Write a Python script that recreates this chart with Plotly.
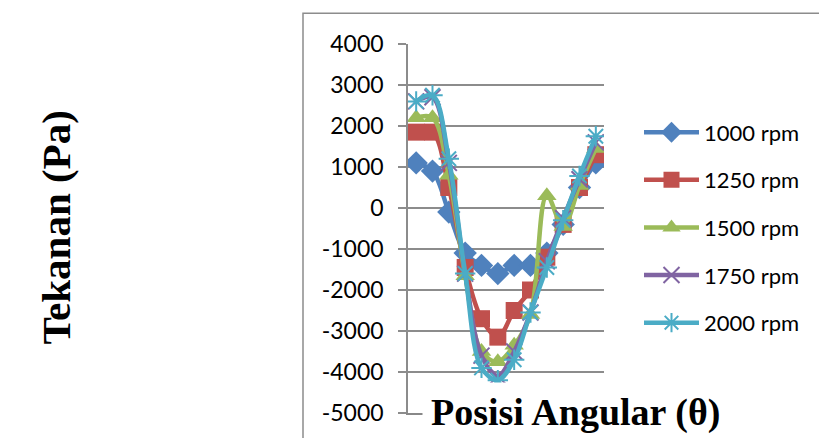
import plotly.graph_objects as go

posisi = [1, 2, 3, 4, 5, 6, 7, 8, 9, 10, 11, 12]
rpm_1000 = [1100, 900, -100, -1100, -1400, -1600, -1400, -1400, -1100, -400, 500, 1100]
rpm_1250 = [1850, 1850, 500, -1450, -2700, -3150, -2500, -2000, -1200, -400, 500, 1300]
rpm_1500 = [2200, 2200, 800, -1650, -3500, -3750, -3350, -2600, 300, -450, 550, 1450]
rpm_1750 = [2600, 2700, 1100, -1600, -3600, -4100, -3500, -2550, -1300, -250, 700, 1600]
rpm_2000 = [2600, 2750, 1200, -1600, -3900, -4200, -3700, -2550, -1450, -300, 780, 1750]
labels = ["1000 rpm", "1250 rpm", "1500 rpm", "1750 rpm", "2000 rpm"]
y_ticks = [4000, 3000, 2000, 1000, 0, -1000, -2000, -3000, -4000, -5000]

series = [rpm_1000, rpm_1250, rpm_1500, rpm_1750, rpm_2000]
colors = ["#4F81BD", "#C0504D", "#9BBB59", "#8064A2", "#4BACC6"]
symbols = ["diamond", "square", "triangle-up", "x-thin", "asterisk"]
sizes = [18, 17, 17, 16, 17]

fig = go.Figure()
for i, (vals, lab) in enumerate(zip(series, labels)):
    c = colors[i]
    marker = dict(symbol=symbols[i], size=sizes[i], color=c)
    if symbols[i] in ("x-thin", "asterisk"):
        marker["line"] = dict(color=c, width=2)
    fig.add_trace(go.Scatter(
        x=posisi, y=vals, name=lab, mode="lines+markers",
        line=dict(color=c, width=4.5, shape="spline", smoothing=1),
        marker=marker, legendgroup=lab,
    ))

OFF = 8  # page body margin
W, H = 827 - OFF, 438 - OFF
L, R, T, B = 408 - OFF, 604 - OFF, 44 - OFF, 416 - OFF
pw, ph = R - L, B - T

def px_x(p):
    return (p - OFF - L) / pw

def px_y(p):
    return (B - (p - OFF)) / ph

fig.update_layout(
    width=W, height=H, autosize=False,
    margin=dict(l=L, r=W - R, t=T, b=H - B, pad=0),
    paper_bgcolor="white", plot_bgcolor="white",
    font=dict(family="Lato", color="black"),
    showlegend=True,
    legend=dict(
        x=px_x(639), y=px_y(112), xanchor="left", yanchor="top",
        font=dict(family="Lato", size=22, color="black"),
        itemwidth=55, tracegroupgap=16, traceorder="grouped",
        bgcolor="rgba(0,0,0,0)",
    ),
    xaxis=dict(
        range=[0.5, 12.5], showgrid=False, zeroline=False,
        showticklabels=False, ticks="", showline=True,
        linecolor="#888888", linewidth=1.5,
    ),
    yaxis=dict(
        range=[-5000, 4000], tickvals=y_ticks, ticktext=[str(v) for v in y_ticks],
        showgrid=True, gridcolor="#8c8c8c", gridwidth=1.5, zeroline=False,
        showline=True, linecolor="#8c8c8c", linewidth=1.5,
        ticks="outside", ticklen=8, tickcolor="#8c8c8c", tickwidth=1.5,
        tickfont=dict(family="Lato", size=23, color="black"),
        ticklabelstandoff=10,
    ),
    shapes=[dict(
        type="rect", xref="paper", yref="paper",
        x0=px_x(303), x1=px_x(845), y0=px_y(450), y1=px_y(13),
        line=dict(color="#8c8c8c", width=1.5), fillcolor="rgba(0,0,0,0)",
        layer="below",
    )],
    annotations=[
        dict(
            text="<b>Tekanan (Pa)</b>", xref="paper", yref="paper",
            x=px_x(56), y=px_y(229), xanchor="center", yanchor="middle",
            textangle=-90, showarrow=False,
            font=dict(family="Liberation Serif", size=41, color="black"),
        ),
        dict(
            text="<b>Posisi Angular (θ)</b>", xref="paper", yref="paper",
            x=px_x(575), y=px_y(415), xanchor="center", yanchor="middle",
            showarrow=False, bgcolor="white", borderpad=8,
            font=dict(family="Liberation Serif", size=38, color="black"),
        ),
    ],
)

fig.write_html("out.html")
